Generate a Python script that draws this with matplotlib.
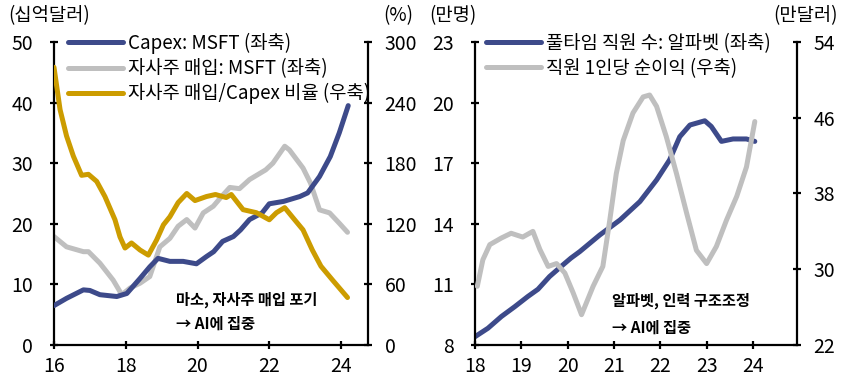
import matplotlib.pyplot as plt

plt.rcParams['font.family'] = ['Noto Sans CJK KR', 'DejaVu Sans']

NAVY = '#3d4a8a'
GRAY = '#bfbfbf'
GOLD = '#cc9c00'

# left panel: MSFT capex / buybacks (bn USD), ratio (%)
capex_x = [16.0, 16.35, 16.82, 17.0, 17.28, 17.75, 18.03, 18.4, 18.67, 18.9, 19.23, 19.6, 19.97,
           20.25, 20.45, 20.7, 21.0, 21.2, 21.45, 21.8, 22.0, 22.4, 22.85, 23.07, 23.4,
           23.7, 23.95, 24.2]
capex_y = [6.5, 7.7, 9.1, 9.0, 8.3, 8.0, 8.5, 11.0, 12.9, 14.3, 13.8, 13.8, 13.4,
           14.6, 15.4, 17.1, 17.9, 19.0, 20.7, 21.8, 23.3, 23.7, 24.5, 25.1, 27.8,
           31.1, 35.0, 39.5]

buyback_x = [16.0, 16.35, 16.82, 16.96, 17.28, 17.65, 17.89, 18.12, 18.4, 18.67, 18.86, 18.95,
             19.23, 19.46, 19.7, 19.93, 20.16, 20.44, 20.67, 20.9, 21.17, 21.45, 21.9, 22.1,
             22.43, 22.56, 22.94, 23.15, 23.4, 23.68, 23.95, 24.18]
buyback_y = [17.9, 16.2, 15.4, 15.4, 13.5, 10.7, 8.3, 9.4, 10.2, 11.3, 14.6, 16.2,
             17.6, 19.6, 20.7, 19.3, 21.8, 22.9, 24.5, 26.0, 25.8, 27.3, 28.9, 30.0,
             32.8, 32.2, 29.2, 26.7, 22.3, 21.8, 20.1, 18.6]

ratio_x = [16.0, 16.17, 16.35, 16.54, 16.77, 16.96, 17.19, 17.42, 17.7, 17.84, 17.98, 18.16,
           18.4, 18.63, 18.86, 19.05, 19.23, 19.46, 19.7, 19.93, 20.25, 20.5, 20.8,
           20.94, 21.27, 21.64, 22.0, 22.2, 22.43, 22.66, 22.94, 23.2, 23.44, 23.77, 24.18]
ratio_y = [275, 233, 207, 187, 168, 169, 162, 147, 124, 107, 96, 101,
           94, 89, 104, 119, 127, 141, 150, 143, 147, 149, 146,
           149, 134, 131, 124, 131, 136, 126, 114, 94, 78, 64, 47]

# right panel: Alphabet full-time employees (10k), net income per employee (10k USD)
emp_x = [18.0, 18.28, 18.57, 18.86, 19.14, 19.36, 19.61, 19.86, 20.07, 20.26, 20.69, 21.13,
         21.56, 21.92, 22.2, 22.42, 22.64, 22.96, 23.1, 23.32, 23.57, 23.86, 24.04]
emp_y = [8.41, 8.83, 9.41, 9.9, 10.4, 10.76, 11.39, 11.89, 12.3, 12.62, 13.44, 14.19,
         15.1, 16.17, 17.16, 18.31, 18.89, 19.1, 18.82, 18.08, 18.2, 18.2, 18.08]

npe_x = [18.05, 18.17, 18.32, 18.57, 18.78, 19.03, 19.25, 19.4, 19.58, 19.76, 19.94, 20.12,
         20.3, 20.55, 20.76, 20.91, 21.05, 21.2, 21.41, 21.63, 21.77, 21.92, 22.13, 22.35,
         22.57, 22.78, 23.0, 23.21, 23.43, 23.65, 23.86, 24.04]
npe_y = [28.2, 31.0, 32.6, 33.3, 33.8, 33.4, 34.0, 32.1, 30.3, 30.6, 29.6, 27.5,
         25.2, 28.2, 30.3, 35.2, 40.1, 43.6, 46.5, 48.2, 48.4, 47.2, 44.0, 40.1,
         35.9, 32.0, 30.6, 32.4, 35.2, 37.7, 40.8, 45.6]

FS = 13.5
TFS = 14


def style(ax, right=False):
    ax.spines['top'].set_visible(False)
    for s in ['left', 'right', 'bottom']:
        ax.spines[s].set_linewidth(1.6)
    if not right:
        ax.spines['right'].set_visible(False)
        ax.tick_params(axis='y', pad=12)
        ax.tick_params(axis='x', pad=5)
    else:
        ax.spines['left'].set_visible(False)
        ax.spines['bottom'].set_visible(False)
        ax.tick_params(axis='y', pad=9)
    ax.tick_params(direction='inout', length=6, width=1.6, labelsize=TFS)


def draw(ax, x, y, color, **kw):
    line, = ax.plot(x, y, color=color, lw=3.6, solid_capstyle='round',
                    solid_joinstyle='round', **kw)
    return line


fig = plt.figure(figsize=(8.5, 3.78), dpi=100)

# ---- left
ax1 = fig.add_axes([0.0635, 0.0873, 0.3694, 0.8016])
ax1b = ax1.twinx()
l1 = draw(ax1, capex_x, capex_y, NAVY, zorder=3)
l2 = draw(ax1, buyback_x, buyback_y, GRAY, zorder=2)
l3 = draw(ax1b, ratio_x, ratio_y, GOLD)
ax1.set_xlim(16, 24.75)
ax1.set_ylim(0, 50)
ax1b.set_ylim(0, 300)
ax1.set_xticks([16, 18, 20, 22, 24])
ax1.set_yticks(range(0, 51, 10))
ax1b.set_yticks(range(0, 301, 60))
style(ax1)
style(ax1b, right=True)
ax1b.legend([l1, l2, l3], ['Capex: MSFT (좌축)', '자사주 매입: MSFT (좌축)', '자사주 매입/Capex 비율 (우축)'],
            loc='upper left', bbox_to_anchor=(0.022, 1.055), frameon=False, fontsize=FS,
            handlelength=2.9, handletextpad=0.3, labelspacing=0.22, borderaxespad=0)
ax1b.text(0.39, 0.15, '마소, 자사주 매입 포기', transform=ax1.transAxes, fontsize=11,
          fontweight='bold', va='center')
ax1b.text(0.39, 0.07, '→ AI에 집중', transform=ax1.transAxes, fontsize=11,
          fontweight='bold', va='center')
fig.text(0.01, 0.958, '(십억달러)', fontsize=FS, va='center')
fig.text(0.451, 0.958, '(%)', fontsize=FS, va='center')

# ---- right
ax2 = fig.add_axes([0.5588, 0.0873, 0.3788, 0.8016])
ax2b = ax2.twinx()
m1 = draw(ax2, emp_x, emp_y, NAVY)
m2 = draw(ax2b, npe_x, npe_y, GRAY)
ax2.set_xlim(18, 24.95)
ax2.set_ylim(8, 23)
ax2b.set_ylim(22, 54)
ax2.set_xticks(range(18, 25))
ax2.set_yticks([8, 11, 14, 17, 20, 23])
ax2b.set_yticks([22, 30, 38, 46, 54])
style(ax2)
style(ax2b, right=True)
ax2b.legend([m1, m2], ['풀타임 직원 수: 알파벳 (좌축)', '직원 1인당 순이익 (우축)'],
            loc='upper left', bbox_to_anchor=(0.012, 1.055), frameon=False, fontsize=FS,
            handlelength=2.9, handletextpad=0.3, labelspacing=0.22, borderaxespad=0)
ax2.text(0.425, 0.145, '알파벳, 인력 구조조정', transform=ax2.transAxes, fontsize=11,
         fontweight='bold', va='center')
ax2.text(0.425, 0.058, '→ AI에 집중', transform=ax2.transAxes, fontsize=11,
         fontweight='bold', va='center')
fig.text(0.505, 0.958, '(만명)', fontsize=FS, va='center')
fig.text(0.91, 0.958, '(만달러)', fontsize=FS, va='center')

fig.savefig('out.png', dpi=100)
